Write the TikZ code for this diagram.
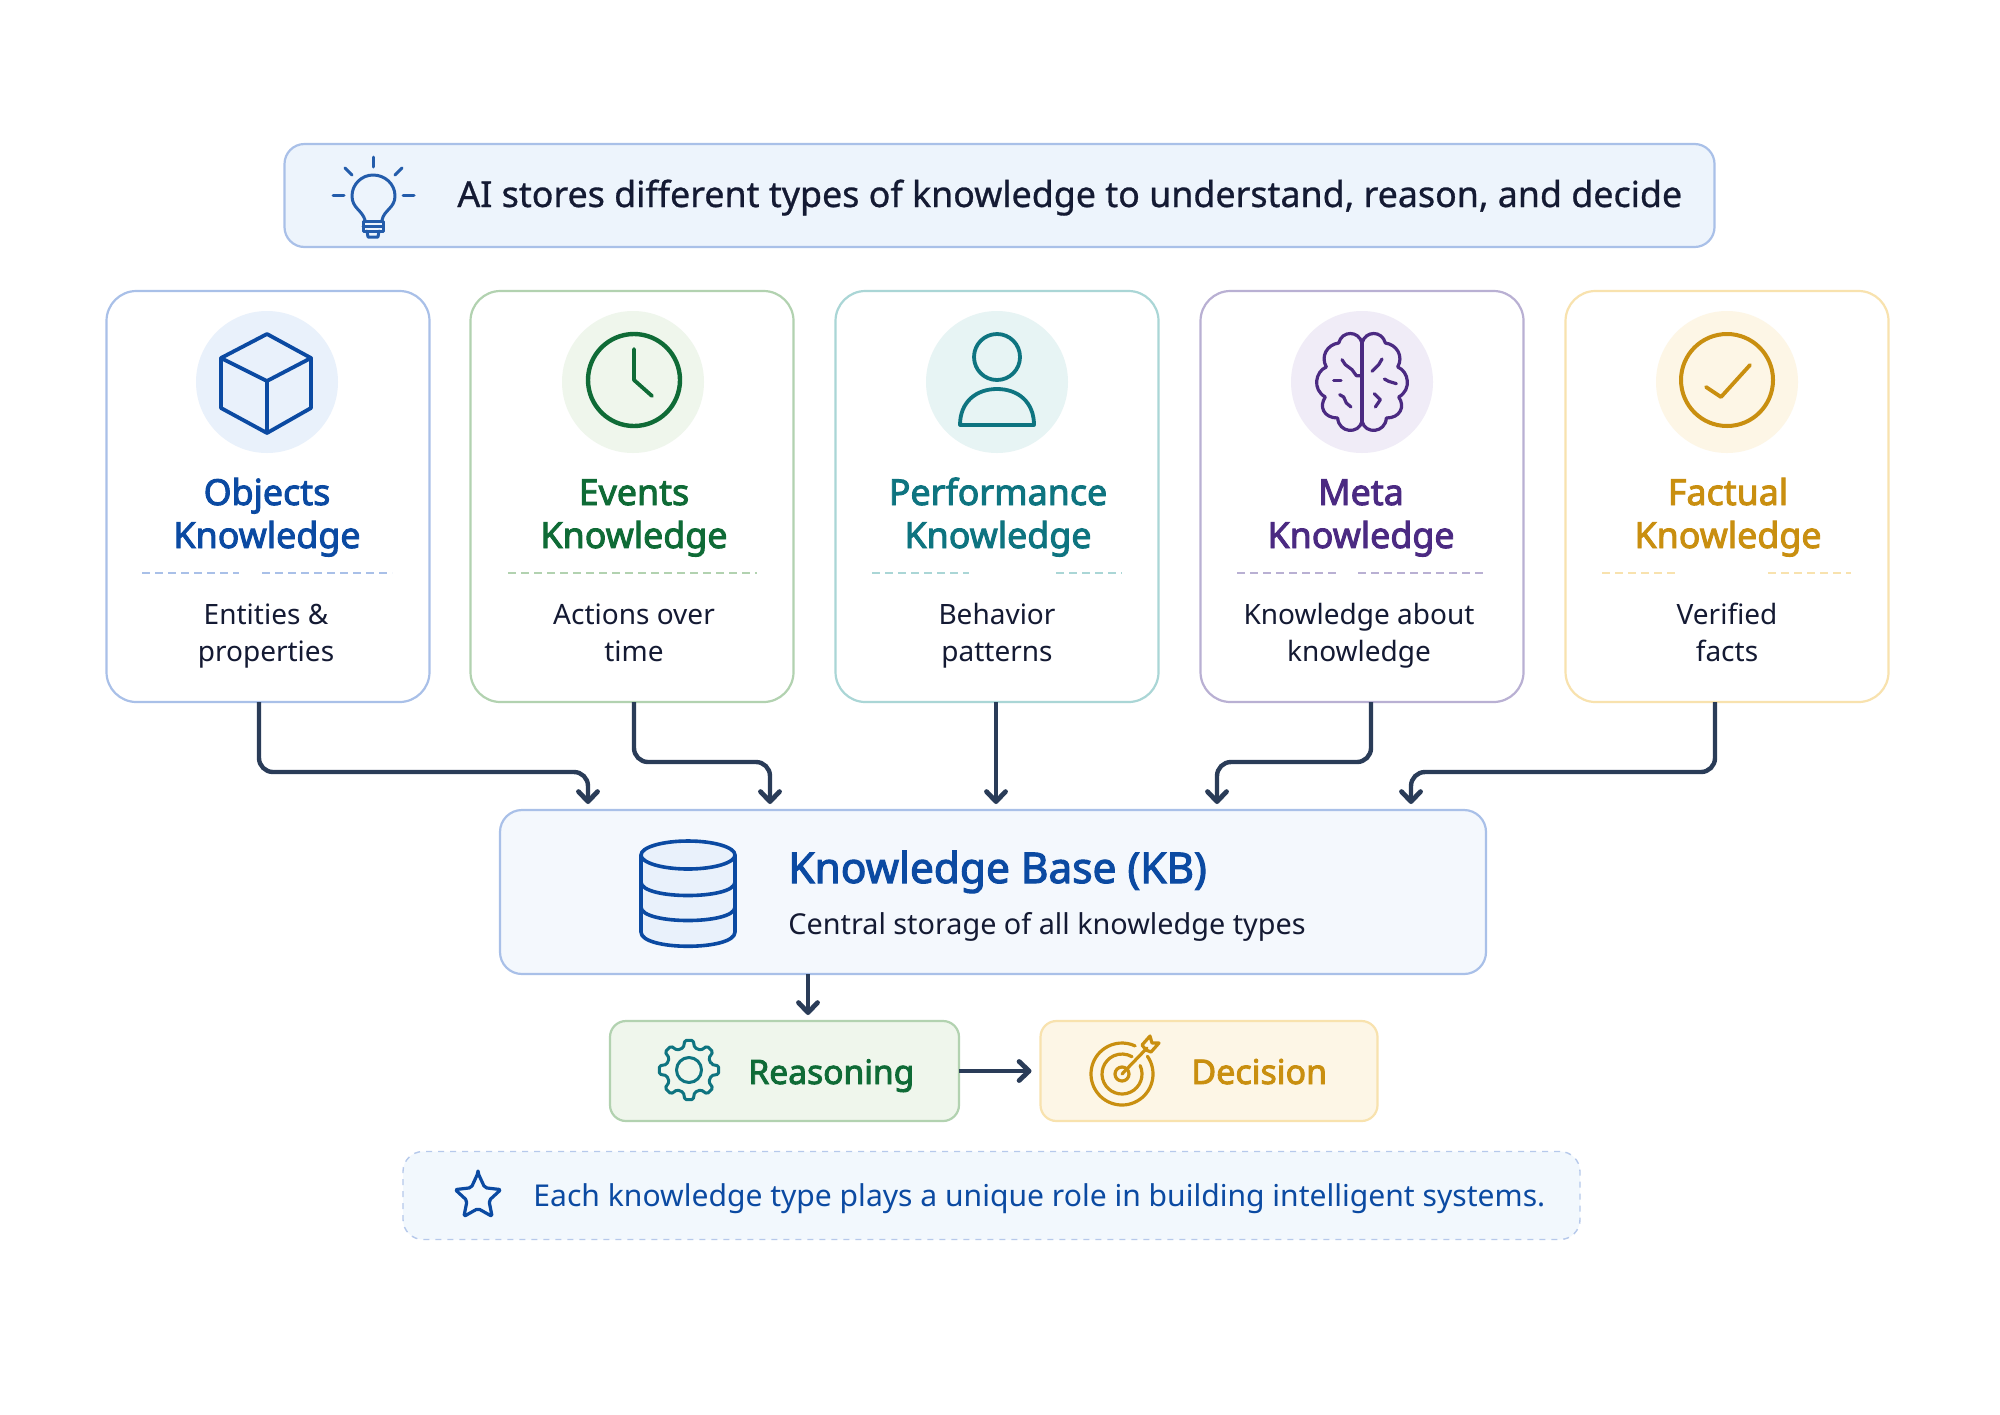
\documentclass[tikz,border=0pt]{standalone}
\usepackage{fontspec}
\setmainfont{Noto Sans}
\newfontfamily\semib[FakeBold=2.6]{Noto Sans}
\newfontfamily\medf[FakeBold=0.8]{Noto Sans}
\usetikzlibrary{arrows.meta}
\definecolor{blueT}{HTML}{0B4AA2}\definecolor{blueB}{HTML}{A9C0E8}\definecolor{blueC}{HTML}{E9F1FB}
\definecolor{greenT}{HTML}{0F6B36}\definecolor{greenB}{HTML}{B2D2B0}\definecolor{greenC}{HTML}{EFF6EC}
\definecolor{tealT}{HTML}{0E7480}\definecolor{tealB}{HTML}{AAD6D6}\definecolor{tealC}{HTML}{E7F4F4}
\definecolor{purpT}{HTML}{4B2A82}\definecolor{purpB}{HTML}{B9B0D3}\definecolor{purpC}{HTML}{F0ECF7}
\definecolor{goldT}{HTML}{C98F10}\definecolor{goldB}{HTML}{F8E2AE}\definecolor{goldC}{HTML}{FDF6E6}
\definecolor{bannerC}{HTML}{F2F8FD}
\definecolor{ink}{HTML}{141A33}\definecolor{arrowc}{HTML}{2A3C58}
\tikzset{
  x=0.5pt,y=-0.5pt,
  card/.style={draw=#1,line width=1.1pt,fill=white,rounded corners=15pt,minimum width=161.5pt,minimum height=205.5pt,inner sep=0pt,outer sep=0pt},
  panel/.style={line width=1.1pt,inner sep=0pt,outer sep=0pt},
  ctitle/.style={text=#1,anchor=base,align=center,inner sep=0pt,font=\fontsize{17.9}{21.5}\selectfont\semib},
  csub/.style={text=ink,anchor=base,align=center,inner sep=0pt,font=\fontsize{14}{18.5}\selectfont},
  halo/.style={fill=#1,draw=none,circle,minimum size=71pt,inner sep=0pt},
  icon/.style={draw=#1,line width=1.9pt,line join=round,line cap=round},
  sep/.style={draw=#1,line width=1.1pt,dash pattern=on 4pt off 2.5pt},
  conn/.style={draw=arrowc,line width=2.2pt,rounded corners=7pt,shorten >=3pt,-{Straight Barb[length=5pt,width=9.5pt,line width=2.4pt,round]}},
}
\begin{document}
\begin{tikzpicture}
\useasboundingbox[fill=white] (0,0) rectangle (2000,1414);
% header
\node[panel,draw=blueB,fill=blueC!80!white,rounded corners=10pt,minimum width=715pt,minimum height=51.5pt] (head) at (999.5,195.5) {};
\node[anchor=base west,inner sep=0pt,text=ink,font=\fontsize{17.9}{22}\selectfont\medf] (headt) at (457,207) {AI stores different types of knowledge to understand, reason, and decide};
\begin{scope}[icon=blueT!90!white,line width=1.5pt]
\draw (365,220) .. controls (362,210) and (352,208) .. (352,196) .. controls (352,184) and (362,175) .. (373,175) .. controls (385,175) and (395,184) .. (395,196) .. controls (395,208) and (384,210) .. (382,220);
\draw (363,221) -- (383,221) -- (383,231) -- (363,231) -- cycle;
\draw (363,226) -- (383,226);
\draw (367,231) -- (368,237) -- (378,237) -- (379,231);
\draw (373,157) -- (373,167); \draw (345,168) -- (352,175); \draw (402,168) -- (395,175);
\draw (333,195) -- (344,195); \draw (403,195) -- (414,195);
\end{scope}
% cards
\node[card=blueB] (c1) at (268,496.5) {};
\node[card=greenB] (c2) at (632,496.5) {};
\node[card=tealB] (c3) at (997,496.5) {};
\node[card=purpB] (c4) at (1362,496.5) {};
\node[card=goldB] (c5) at (1727,496.5) {};
\node[halo=blueC] (h1) at (267,382) {};
\node[halo=greenC] (h2) at (633,382) {};
\node[halo=tealC] (h3) at (997,382) {};
\node[halo=purpC] (h4) at (1362,382) {};
\node[halo=goldC] (h5) at (1727,382) {};
% cube
\draw[icon=blueT] (267,334) -- (311,358) -- (311,408) -- (267,433) -- (221,408) -- (221,358) -- cycle;
\draw[icon=blueT] (221,358) -- (267,381) -- (311,358) (267,381) -- (267,433);
% clock
\draw[icon=greenT,line width=2.2pt] (634,380) circle[radius=46];
\draw[icon=greenT] (634,349) -- (634,380) -- (652,396);
% person
\draw[icon=tealT] (997,357) circle[radius=23];
\draw[icon=tealT] (960,425) .. controls (960,402) and (976,389) .. (997,389) .. controls (1018,389) and (1034,402) .. (1034,425) -- cycle;
% brain
\begin{scope}[shift={(1362,383)},x=0.1667pt,y=-0.1667pt,icon=purpT,line width=1.6pt]
\draw (0,-120) .. controls (-10,-158) and (-60,-158) .. (-70,-120)
 .. controls (-105,-115) and (-125,-80) .. (-107,-48)
 .. controls (-140,-35) and (-150,20) .. (-110,42)
 .. controls (-130,70) and (-115,105) .. (-73,105)
 .. controls (-70,150) and (-10,155) .. (0,115);
\draw (0,-120) .. controls (10,-158) and (60,-158) .. (70,-120)
 .. controls (105,-115) and (125,-80) .. (107,-48)
 .. controls (140,-35) and (150,20) .. (110,42)
 .. controls (130,70) and (115,105) .. (73,105)
 .. controls (70,150) and (10,155) .. (0,115);
\draw (0,-120) -- (0,115);
\draw (-60,-70) -- (-50,-55) -- (-30,-40) -- (-17,-22) -- (0,-22);
\draw (-85,-8) -- (-63,-8);
\draw (-67,35) -- (-55,42) -- (-47,60) -- (-33,72);
\draw (60,-72) -- (50,-55) -- (30,-35);
\draw (67,-12) -- (80,-5) -- (103,2);
\draw (37,32) -- (55,50) -- (40,72);
\end{scope}
% check
\draw[icon=goldT,line width=2pt] (1727,380) circle[radius=46];
\draw[icon=goldT] (1706,387) -- (1721,397) -- (1750,365);
% titles
\node[ctitle=blueT] (t1) at (267,548) {Objects\\Knowledge};
\node[ctitle=greenT] (t2) at (634,548) {Events\\Knowledge};
\node[ctitle=tealT] (t3) at (998,548) {Performance\\Knowledge};
\node[ctitle=purpT] (t4) at (1361,548) {Meta\\Knowledge};
\node[ctitle=goldT] (t5) at (1728,548) {Factual\\Knowledge};
% separators
\draw[sep=blueB] (142,573) -- (239,573) (262,573) -- (392,573);
\draw[sep=greenB] (508,573) -- (757,573);
\draw[sep=tealB] (872,573) -- (969,573) (1056,573) -- (1122,573);
\draw[sep=purpB] (1237,573) -- (1336,573) (1358,573) -- (1486,573);
\draw[sep=goldB] (1602,573) -- (1677,573) (1768,573) -- (1851,573);
% subtitles
\node[csub] (s1) at (266,661) {Entities \&\\properties};
\node[csub] (s2) at (634,661) {Actions over\\time};
\node[csub] (s3) at (997,661) {Behavior\\patterns};
\node[csub] (s4) at (1359,661) {Knowledge about\\knowledge};
\node[csub] (s5) at (1727,661) {Verified\\facts};
% KB
\node[panel,draw=blueB,fill=blueC!50!white,rounded corners=11pt,minimum width=493pt,minimum height=82pt] (kb) at (993,892) {};
\begin{scope}[icon=blueT,line width=1.8pt]
\draw[fill=blueC] (641,855) -- (641,932) .. controls (641,951) and (735,951) .. (735,932) -- (735,855);
\draw[fill=blueC] (688,855) ellipse[x radius=47,y radius=14];
\draw (641,882) .. controls (641,900) and (735,900) .. (735,882);
\draw (641,907) .. controls (641,925) and (735,925) .. (735,907);
\end{scope}
\node[anchor=base west,inner sep=0pt,text=blueT,font=\fontsize{21.2}{26}\selectfont\semib] (kbt) at (788,883) {Knowledge Base (KB)};
\node[anchor=base west,inner sep=0pt,text=ink,font=\fontsize{14.4}{18}\selectfont] (kbs) at (788,934) {Central storage of all knowledge types};
% reasoning
\node[panel,draw=greenB,fill=greenC,rounded corners=8pt,minimum width=174.5pt,minimum height=50pt] (re) at (784.5,1071) {};
\begin{scope}[shift={(689,1070)}]
\draw[icon=tealT,line width=1.5pt,rounded corners=0.8pt] (-14:23)
 \foreach \a in {0,45,...,315}{ -- ({\a-14}:23) -- ({\a-8}:30) -- ({\a+8}:30) -- ({\a+14}:23) } -- cycle;
\draw[icon=tealT,line width=1.5pt] (0,0) circle[radius=12.5];
\end{scope}
\node[anchor=base west,inner sep=0pt,text=greenT,font=\fontsize{16.8}{20}\selectfont\semib] (ret) at (748,1084) {Reasoning};
% decision
\node[panel,draw=goldB,fill=goldC,rounded corners=8pt,minimum width=168.5pt,minimum height=50pt] (de) at (1209,1071) {};
\node[anchor=base west,inner sep=0pt,text=goldT,font=\fontsize{17}{20}\selectfont\semib] (det) at (1191,1084) {Decision};
\begin{scope}[icon=goldT,line width=1.6pt]
\draw (1122,1074) ++(-35:31) arc[start angle=-35,end angle=295,radius=31];
\draw (1122,1074) ++(-25:20) arc[start angle=-25,end angle=300,radius=20];
\draw (1122,1074) circle[radius=7];
\draw (1122,1074) -- (1147,1048);
\draw (1142,1045) -- (1150,1036) -- (1152,1043) -- (1159,1043) -- (1151,1052) -- (1146,1050) -- cycle;
\end{scope}
% banner
\node[panel,draw=blueB!85!white,fill=bannerC,dashed,line width=0.7pt,rounded corners=10pt,minimum width=588.5pt,minimum height=44pt] (ban) at (991.5,1195.5) {};
\begin{scope}[shift={(478,1197)}]
\draw[icon=blueT,line width=1.6pt,rounded corners=1pt] (-90:24)
 \foreach \k in {0,...,4}{ -- ({-90+72*\k}:24) -- ({-54+72*\k}:11.5) } -- cycle;
\end{scope}
\node[anchor=base west,inner sep=0pt,text=blueT,font=\fontsize{15.04}{18}\selectfont] (bant) at (533,1206.5) {Each knowledge type plays a unique role in building intelligent systems.};
% connectors
\coordinate (a1) at (259,772); \coordinate (b1) at (588,772);
\coordinate (a2) at (634,762); \coordinate (b2) at (770,762);
\coordinate (a3) at (996,760);
\coordinate (a4) at (1371,762); \coordinate (b4) at (1217,762);
\coordinate (a5) at (1715,772); \coordinate (b5) at (1411,772);
\coordinate (a6) at (808,990);
\draw[conn] (c1.south -| a1) -- (a1) -- (b1) -- (kb.north -| b1);
\draw[conn] (c2.south -| a2) -- (a2) -- (b2) -- (kb.north -| b2);
\draw[conn] (c3.south -| a3) -- (kb.north -| a3);
\draw[conn] (c4.south -| a4) -- (a4) -- (b4) -- (kb.north -| b4);
\draw[conn] (c5.south -| a5) -- (a5) -- (b5) -- (kb.north -| b5);
\draw[conn] (kb.south -| a6) -- (re.north -| a6);
\draw[conn,shorten >=4.5pt] (re.east) -- (de.west);
\end{tikzpicture}
\end{document}
